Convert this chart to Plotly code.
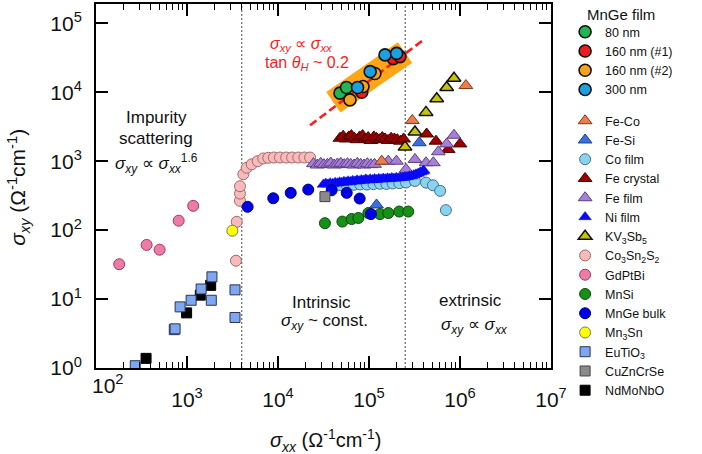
import plotly.graph_objects as go

# ---------------- data ----------------
# MnGe film (thin films)
film80_x = [48000, 56600]
film80_y = [9700, 11700]
film160a_x = [83200, 185000, 219000]
film160a_y = [10000, 30700, 32900]
film160b_x = [61800, 85900, 116000]
film160b_y = [7740, 12100, 18700]
film300_x = [74800, 103000, 150000, 201000]
film300_y = [11700, 19900, 34800, 36600]

# highlight band and guide line (sigma_xy ∝ sigma_xx)
band_x = [40600, 249000]
band_y = [7180, 37800]
guide_x = [22500, 395000]
guide_y = [3320, 57200]

# regime boundaries
boundary_x = [4000, 250000]
boundary_y = [1, 190000]

feco_x = [138000, 299000, 1160000]
feco_y = [1000, 3900, 12500]

fesi_x = [121000, 357000]
fesi_y = [232, 1850]

cofilm_x = [40000, 48000, 57000, 68000, 80000, 95000, 112000, 132000, 155000, 182000,
            215000, 255000, 320000, 423000, 505000, 605000, 700000]
cofilm_y = [440, 450, 445, 455, 460, 458, 465, 470, 468, 475,
            480, 490, 516, 488, 447, 371, 195]

fecrys_x = [48000, 52000, 56000, 60000, 64000, 69000, 74000, 79000, 85000, 91000,
            98000, 105000, 113000, 121000, 130000, 140000, 150000, 162000, 175000,
            190000, 205000, 222000, 240000, 430000, 545000, 741000, 1000000]
fecrys_y = [2150, 2300, 2100, 2250, 2350, 2150, 2050, 2250, 2350, 2100,
            2200, 2000, 2250, 2150, 2050, 2200, 2100, 2000, 2150,
            2100, 2050, 1950, 2100, 2480, 1950, 1480, 1780]

fefilm_x = [24500, 27000, 29500, 32000, 35000, 38000, 41500, 45000, 49000, 53500,
            58000, 63000, 68500, 74500, 81000, 88000, 96000, 105000, 115000,
            163000, 200000, 255000, 320000, 423000, 509000, 578000, 714000, 859000]
fefilm_y = [920, 880, 930, 890, 900, 940, 880, 910, 930, 890,
            920, 900, 880, 930, 900, 880, 920, 890, 900,
            1000, 1000, 760, 1060, 950, 950, 1370, 1780, 2380]

nifilm_x = [31500, 33500, 35500, 37500, 40000, 42500, 45000, 47500, 50000, 53000,
            56000, 59000, 62500, 66000, 70000, 74000, 78000, 82500, 87000, 92000,
            97000, 103000, 109000, 115000, 121000, 128000, 135000, 143000, 151000,
            160000, 169000, 178000, 188000, 199000, 210000, 222000, 235000, 248000,
            262000, 277000, 293000, 310000, 328000, 347000, 367000, 388000, 400000]
nifilm_y = [460, 475, 462, 480, 470, 488, 478, 495, 485, 505,
            495, 512, 500, 520, 510, 528, 515, 535, 525, 545,
            530, 548, 535, 552, 540, 556, 545, 560, 550,
            565, 555, 570, 560, 575, 565, 580, 575, 590,
            590, 605, 610, 630, 645, 665, 690, 710, 730]

kv3sb5_x = [249000, 320000, 423000, 555000, 714000, 859000]
kv3sb5_y = [1600, 2650, 5100, 8050, 11700, 16000]

co3sn2s2_x = [3450, 3520, 3820, 3820, 3820, 4160, 4530, 5140, 5980, 6890,
              7820, 9000, 10500, 12300, 14300, 16700, 19500, 22500]
co3sn2s2_y = [36, 132, 266, 339, 433, 646, 803, 900, 1000, 1096,
              1120, 1130, 1130, 1130, 1130, 1130, 1130, 1130]

gdptbi_x = [180, 360, 500, 810, 1170]
gdptbi_y = [32, 61, 52, 137, 225]

mnsi_x = [32800, 51000, 64600, 76400, 98400, 132000, 163000, 215000, 270000]
mnsi_y = [126, 133, 145, 150, 177, 171, 177, 186, 186]

mngebulk_x = [4640, 8870, 13800, 21500, 38900, 56900, 79000, 105000]
mngebulk_y = [218, 290, 347, 387, 379, 347, 287, 171]

mn3sn_x = [3150]
mn3sn_y = [98]

eutio3_x = [270, 725, 740, 840, 1110, 1430, 1880, 1850, 3370, 3370]
eutio3_y = [1.08, 3.6, 3.7, 7.7, 9.6, 14, 21, 9.6, 13.6, 5.4]

cuzncrse_x = [32800]
cuzncrse_y = [306]

ndmonbo_x = [355, 990, 1400, 1820]
ndmonbo_y = [1.38, 6.3, 11.4, 15.8]

x_tickvals = [1e2, 1e3, 1e4, 1e5, 1e6, 1e7]
x_ticktext = ["", "10<sup>3</sup>", "10<sup>4</sup>", "10<sup>5</sup>", "10<sup>6</sup>", "10<sup>7</sup>"]
y_tickvals = [1e0, 1e1, 1e2, 1e3, 1e4, 1e5]
y_ticktext = ["10<sup>0</sup>", "10<sup>1</sup>", "10<sup>2</sup>", "10<sup>3</sup>", "10<sup>4</sup>", "10<sup>5</sup>"]

# ---------------- figure ----------------
FONT = "Liberation Sans, Arial, sans-serif"

fig = go.Figure()

# regime boundaries
for bx in boundary_x:
    fig.add_trace(go.Scatter(x=[bx, bx], y=boundary_y, mode="lines", showlegend=False,
                             hoverinfo="skip",
                             line=dict(color="#333333", width=0.9, dash="2px,2px")))

# orange band
fig.add_trace(go.Scatter(x=band_x, y=band_y, mode="lines", showlegend=False, hoverinfo="skip",
                         line=dict(color="#ffa516", width=25)))
# red dashed guide
fig.add_trace(go.Scatter(x=guide_x, y=guide_y, mode="lines", showlegend=False, hoverinfo="skip",
                         line=dict(color="#ff1a1a", width=2.6, dash="8px,4px")))


def add(name, xs, ys, symbol, color, edge, size, rank, group, lw=1.0):
    fig.add_trace(go.Scatter(
        x=xs, y=ys, mode="markers", name=name, legendrank=rank, legendgroup=group,
        marker=dict(symbol=symbol, color=color, size=size,
                    line=dict(color=edge, width=lw))))


# background series first
add("Co<sub>3</sub>Sn<sub>2</sub>S<sub>2</sub>", co3sn2s2_x, co3sn2s2_y, "circle", "#f8baba", "#9e6b6b", 11, 12, "b")
add("GdPtBi", gdptbi_x, gdptbi_y, "circle", "#ee7aa8", "#9a3c5e", 11, 13, "b")
add("Fe crystal", fecrys_x, fecrys_y, "triangle-up", "#9b0000", "#4a0000", 12, 8, "b")
add("Fe film", fefilm_x, fefilm_y, "triangle-up", "#a77fd8", "#5a3f80", 12, 9, "b")
add("Co film", cofilm_x, cofilm_y, "circle", "#86d3f2", "#4f6f80", 11, 7, "b")
add("Ni film", nifilm_x, nifilm_y, "triangle-up", "#0a0af5", "#0a0af5", 11, 10, "b", 0.5)
add("Fe-Si", fesi_x, fesi_y, "triangle-up", "#3b6fe0", "#233f80", 12, 6, "b")
add("Fe-Co", feco_x, feco_y, "triangle-up", "#f07c4a", "#7a3a1f", 12, 5, "b")
add("KV<sub>3</sub>Sb<sub>5</sub>", kv3sb5_x, kv3sb5_y, "triangle-up", "#c9c400", "#111111", 12, 11, "b", 1.5)
add("MnSi", mnsi_x, mnsi_y, "circle", "#169016", "#0b4a0b", 11, 14, "b")
add("MnGe bulk", mngebulk_x, mngebulk_y, "circle", "#0000e6", "#000088", 11, 15, "b")
add("Mn<sub>3</sub>Sn", mn3sn_x, mn3sn_y, "circle", "#ffff00", "#777777", 11, 16, "b")
add("NdMoNbO", ndmonbo_x, ndmonbo_y, "square", "#000000", "#000000", 10, 19, "b")
add("CuZnCrSe", cuzncrse_x, cuzncrse_y, "square", "#8a8a8a", "#444444", 10, 18, "b")
add("EuTiO<sub>3</sub>", eutio3_x, eutio3_y, "square", "#7ea6f2", "#2b3550", 10, 17, "b")

# MnGe film on top
add("80 nm", film80_x, film80_y, "circle", "#22b455", "#111111", 12, 1, "a", 1.6)
add("160 nm (#1)", film160a_x, film160a_y, "circle", "#ee1c1c", "#111111", 12, 2, "a", 1.6)
add("160 nm (#2)", film160b_x, film160b_y, "circle", "#f7a21b", "#111111", 12, 3, "a", 1.6)
add("300 nm", film300_x, film300_y, "circle", "#1ba1e2", "#111111", 12, 4, "a", 1.6)


def sig(sub):
    return "<i>σ<sub>%s</sub></i>" % sub


ann_font = dict(family=FONT, size=17, color="#111111")
red_font = dict(family=FONT, size=16, color="#ff1a1a")
anns = [
    dict(x=0.132, y=0.689, text="Impurity", font=ann_font),
    dict(x=0.132, y=0.631, text="scattering", font=ann_font),
    dict(x=0.134, y=0.563, text=sig("xy") + " ∝ " + sig("xx") + "<sup>1.6</sup>", font=ann_font),
    dict(x=0.495, y=0.181, text="Intrinsic", font=ann_font),
    dict(x=0.503, y=0.127, text=sig("xy") + " ~ const.", font=ann_font),
    dict(x=0.822, y=0.186, text="extrinsic", font=ann_font),
    dict(x=0.831, y=0.115, text=sig("xy") + " ∝ " + sig("xx"), font=ann_font),
    dict(x=0.451, y=0.888, text=sig("xy") + " ∝ " + sig("xx"), font=red_font),
    dict(x=0.464, y=0.836, text="tan <i>θ<sub>H</sub></i> ~ 0.2", font=red_font),
    # 10^2 tick label (placed as in original)
    dict(x=0.026, y=-0.044, text="10<sup>2</sup>", font=dict(family=FONT, size=21, color="#111111")),
    # axis titles
    dict(x=-0.172, y=0.497, text="<i>σ</i><sub><i>xy</i></sub> (Ω<sup>-1</sup>cm<sup>-1</sup>)",
         textangle=-90, font=dict(family=FONT, size=21, color="#111111")),
    dict(x=0.505, y=-0.199, text="<i>σ</i><sub><i>xx</i></sub> (Ω<sup>-1</sup>cm<sup>-1</sup>)",
         font=dict(family=FONT, size=20, color="#111111")),
]
for a in anns:
    a.update(xref="paper", yref="paper", showarrow=False, xanchor="center", yanchor="middle")
# legend heading
anns.append(dict(x=1.0747, y=0.970, xref="paper", yref="paper", showarrow=False,
                 xanchor="left", yanchor="middle", text="MnGe film",
                 font=dict(family=FONT, size=15, color="#111111")))

fig.update_layout(
    width=702, height=454,
    margin=dict(l=96, r=151, t=2, b=86),
    plot_bgcolor="white", paper_bgcolor="white",
    font=dict(family=FONT, color="#111111"),
    annotations=anns,
    legend=dict(
        x=1.031, y=0.964, xanchor="left", yanchor="top", maxheight=440,
        font=dict(size=12.5, family=FONT, color="#111111"),
        tracegroupgap=12, bgcolor="rgba(0,0,0,0)", itemsizing="trace",
    ),
    xaxis=dict(
        type="log", range=[2, 7], tickmode="array", tickvals=x_tickvals, ticktext=x_ticktext,
        ticks="inside", ticklen=12, tickwidth=1.5, tickcolor="black",
        showline=True, linecolor="black", linewidth=1.8, mirror="allticks",
        showgrid=False, zeroline=False, ticklabelstandoff=12,
        tickfont=dict(size=21, family=FONT, color="#111111"),
        minor=dict(ticks="inside", ticklen=6, tickwidth=1.2, tickcolor="black", dtick="D1", showgrid=False),
    ),
    yaxis=dict(
        type="log", range=[0, 5.28], tickmode="array", tickvals=y_tickvals, ticktext=y_ticktext,
        ticks="inside", ticklen=12, tickwidth=1.5, tickcolor="black",
        showline=True, linecolor="black", linewidth=1.8, mirror="allticks",
        showgrid=False, zeroline=False, ticklabelstandoff=8,
        tickfont=dict(size=21, family=FONT, color="#111111"),
    ),
)

fig.write_html("out.html", config={"displayModeBar": False},
               post_script="document.body.style.margin='0';")
